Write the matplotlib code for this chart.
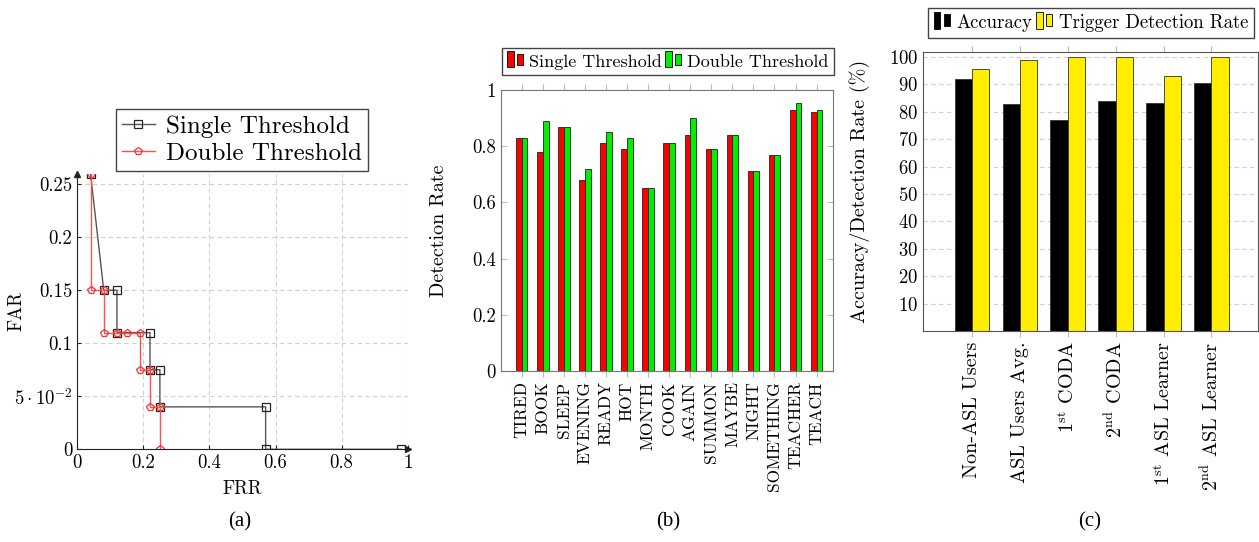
import numpy as np
import matplotlib
matplotlib.use("Agg")
import matplotlib.pyplot as plt
from matplotlib.patches import Rectangle
from matplotlib.legend_handler import HandlerBase

plt.rcParams['font.family'] = ['cmr10', 'DejaVu Serif']
plt.rcParams['mathtext.fontset'] = 'cm'
plt.rcParams['axes.formatter.use_mathtext'] = True
plt.rcParams['axes.unicode_minus'] = False

# (a) FAR vs FRR
single_frr = [0.04, 0.08, 0.12, 0.12, 0.22, 0.22, 0.25, 0.25, 0.57, 0.57, 0.98]
single_far = [0.26, 0.15, 0.15, 0.11, 0.11, 0.075, 0.075, 0.04, 0.04, 0.0, 0.0]
double_frr = [0.04, 0.04, 0.08, 0.08, 0.12, 0.15, 0.19, 0.19, 0.22, 0.22, 0.25, 0.25]
double_far = [0.26, 0.15, 0.15, 0.11, 0.11, 0.11, 0.11, 0.075, 0.075, 0.04, 0.04, 0.0]

# (b) detection rate per sign
signs = ['TIRED', 'BOOK', 'SLEEP', 'EVENING', 'READY', 'HOT', 'MONTH', 'COOK',
         'AGAIN', 'SUMMON', 'MAYBE', 'NIGHT', 'SOMETHING', 'TEACHER', 'TEACH']
single_rate = [0.83, 0.78, 0.87, 0.68, 0.81, 0.79, 0.65, 0.81, 0.84, 0.79, 0.84, 0.71, 0.77, 0.93, 0.92]
double_rate = [0.83, 0.89, 0.87, 0.72, 0.85, 0.83, 0.65, 0.81, 0.90, 0.79, 0.84, 0.71, 0.77, 0.955, 0.93]

# (c) accuracy / trigger detection per user group
groups = ['Non-ASL Users', 'ASL Users Avg.', r'1$^{\rm st}$ CODA', r'2$^{\rm nd}$ CODA',
          r'1$^{\rm st}$ ASL Learner', r'2$^{\rm nd}$ ASL Learner']
accuracy = [92.0, 83.0, 77.0, 84.0, 83.3, 90.5]
trigger = [95.6, 98.9, 100.0, 100.0, 93.0, 100.0]

W, H = 1259, 542
fig = plt.figure(figsize=(W / 100, H / 100), dpi=100)


def fbox(x0, y0, x1, y1):
    # pixel box (top-left origin) -> figure fraction rect
    return [x0 / W, 1 - y1 / H, (x1 - x0) / W, (y1 - y0) / H]


class TwoBars(HandlerBase):
    def create_artists(self, legend, orig, xd, yd, w, h, fs, trans):
        fc = orig.get_facecolor()
        r1 = Rectangle((xd, yd - 0.1 * h), w * 0.38, h * 1.2, fc=fc, ec='k', lw=0.6, transform=trans)
        r2 = Rectangle((xd + w * 0.58, yd + 0.1 * h), w * 0.38, h * 0.8, fc=fc, ec='k', lw=0.6, transform=trans)
        return [r1, r2]


grid_kw = dict(color='#d0d0d0', linestyle=(0, (4, 3)), linewidth=0.8)

# ---------------- (a) ----------------
ax1 = fig.add_axes(fbox(77.3, 173.5, 407.7, 449.3))
ax1.plot(single_frr, single_far, color='#555555', lw=1.0, marker='s', ms=6,
         mfc='none', mec='#222222', mew=0.9, label='Single Threshold')
ax1.plot(double_frr, double_far, color='#ff5050', lw=1.0, marker='p', ms=6,
         mfc='none', mec='#ff3030', mew=0.9, label='Double Threshold')
ax1.set_xlim(0, 1)
ax1.set_ylim(0, 0.26)
ax1.set_xticks([0, 0.2, 0.4, 0.6, 0.8, 1])
ax1.set_xticklabels(['0', '0.2', '0.4', '0.6', '0.8', '1'])
ax1.set_yticks([0, 0.05, 0.1, 0.15, 0.2, 0.25])
ax1.set_yticklabels(['0', r'$5\cdot10^{-2}$', '0.1', '0.15', '0.2', '0.25'])
ax1.grid(True, **grid_kw)
ax1.set_axisbelow(True)
for s in ['top', 'right']:
    ax1.spines[s].set_visible(False)
for s in ['left', 'bottom']:
    ax1.spines[s].set_color('#222222')
    ax1.spines[s].set_linewidth(0.8)
ax1.plot(1, 0, '>', color='#222222', ms=4, transform=ax1.get_yaxis_transform(), clip_on=False)
ax1.plot(0, 1, '^', color='#222222', ms=4, transform=ax1.get_xaxis_transform(), clip_on=False)
ax1.tick_params(direction='in', length=3, labelsize=13.5, color='#222222')
ax1.set_xlabel('FRR', fontsize=13.5)
ax1.set_ylabel('FAR', fontsize=13.5)
ax1.xaxis.set_label_coords(0.5, -0.112)
ax1.yaxis.set_label_coords(-0.158, 0.5)
fig.legend(*ax1.get_legend_handles_labels(), loc='center',
           bbox_to_anchor=(242 / W, 1 - 140 / H), fontsize=18, fancybox=False,
           edgecolor='#444444', framealpha=1, handlelength=1.3, borderpad=0.25,
           labelspacing=0.2, handletextpad=0.45)

# ---------------- (b) ----------------
ax2 = fig.add_axes(fbox(500.7, 90, 833, 371))
xb = np.arange(len(signs))
bw = 0.27
b1 = ax2.bar(xb - bw / 2, single_rate, bw, color='#ff0000', edgecolor='#222222', lw=0.6,
             label='Single Threshold')
b2 = ax2.bar(xb + bw / 2, double_rate, bw, color='#00ee00', edgecolor='#222222', lw=0.6,
             label='Double Threshold')
ax2.set_xlim(-1, 14.78)
ax2.set_ylim(0, 1)
ax2.set_yticks([0, 0.2, 0.4, 0.6, 0.8, 1])
ax2.set_yticklabels(['0', '0.2', '0.4', '0.6', '0.8', '1'])
ax2.set_xticks(xb)
ax2.set_xticklabels(signs, rotation=90)
ax2.tick_params(axis='x', direction='out', top=True, length=4, color='#bbbbbb', labelsize=12.5)
ax2.tick_params(axis='y', direction='in', right=True, length=4, color='#bbbbbb', labelsize=13.5)
for s in ax2.spines.values():
    s.set_color('#777777')
ax2.set_ylabel('Detection Rate', fontsize=14.5)
ax2.yaxis.set_label_coords(-0.159, 0.5)
fig.legend([b1[0], b2[0]], ['Single Threshold', 'Double Threshold'], loc='center',
           bbox_to_anchor=(668 / W, 1 - 61.5 / H), ncol=2, fontsize=13, fancybox=False,
           edgecolor='#444444', framealpha=1, handlelength=0.9, handleheight=0.8,
           handletextpad=0.3, columnspacing=0.2, borderpad=0.3,
           handler_map={Rectangle: TwoBars()})

# ---------------- (c) ----------------
ax3 = fig.add_axes(fbox(923, 52, 1257.5, 331))
xc = np.arange(len(groups))
cw = 0.36
c1 = ax3.bar(xc - cw / 2, accuracy, cw, color='#000000', edgecolor='#333333', lw=0.6,
             label='Accuracy')
c2 = ax3.bar(xc + cw / 2, trigger, cw, color='#ffee00', edgecolor='#333333', lw=0.6,
             label='Trigger Detection Rate')
ax3.set_xlim(-1.02, 5.96)
ax3.set_ylim(0, 101.8)
ax3.set_yticks(np.arange(10, 101, 10))
ax3.set_xticks(xc)
ax3.set_xticklabels(groups, rotation=90)
ax3.yaxis.grid(True, **grid_kw)
ax3.set_axisbelow(True)
ax3.tick_params(axis='x', direction='out', top=True, length=4, color='#bbbbbb', labelsize=14.5)
ax3.tick_params(axis='y', length=0, labelsize=13.5)
for s in ax3.spines.values():
    s.set_color('#555555')
ax3.set_ylabel('Accuracy/Detection Rate (%)', fontsize=14.5)
ax3.yaxis.set_label_coords(-0.158, 0.5)
fig.legend([c1[0], c2[0]], ['Accuracy', 'Trigger Detection Rate'], loc='center',
           bbox_to_anchor=(1091 / W, 1 - 23 / H), ncol=2, fontsize=13.5, fancybox=False,
           edgecolor='#444444', framealpha=1, handlelength=0.9, handleheight=0.8,
           handletextpad=0.3, columnspacing=0.2, borderpad=0.3,
           handler_map={Rectangle: TwoBars()})

# captions
for x, t in [(240, '(a)'), (668, '(b)'), (1090, '(c)')]:
    fig.text(x / W, 1 - 522 / H, t, ha='center', va='center', fontsize=15,
             family='Liberation Serif')

fig.savefig('out.png', dpi=100)
